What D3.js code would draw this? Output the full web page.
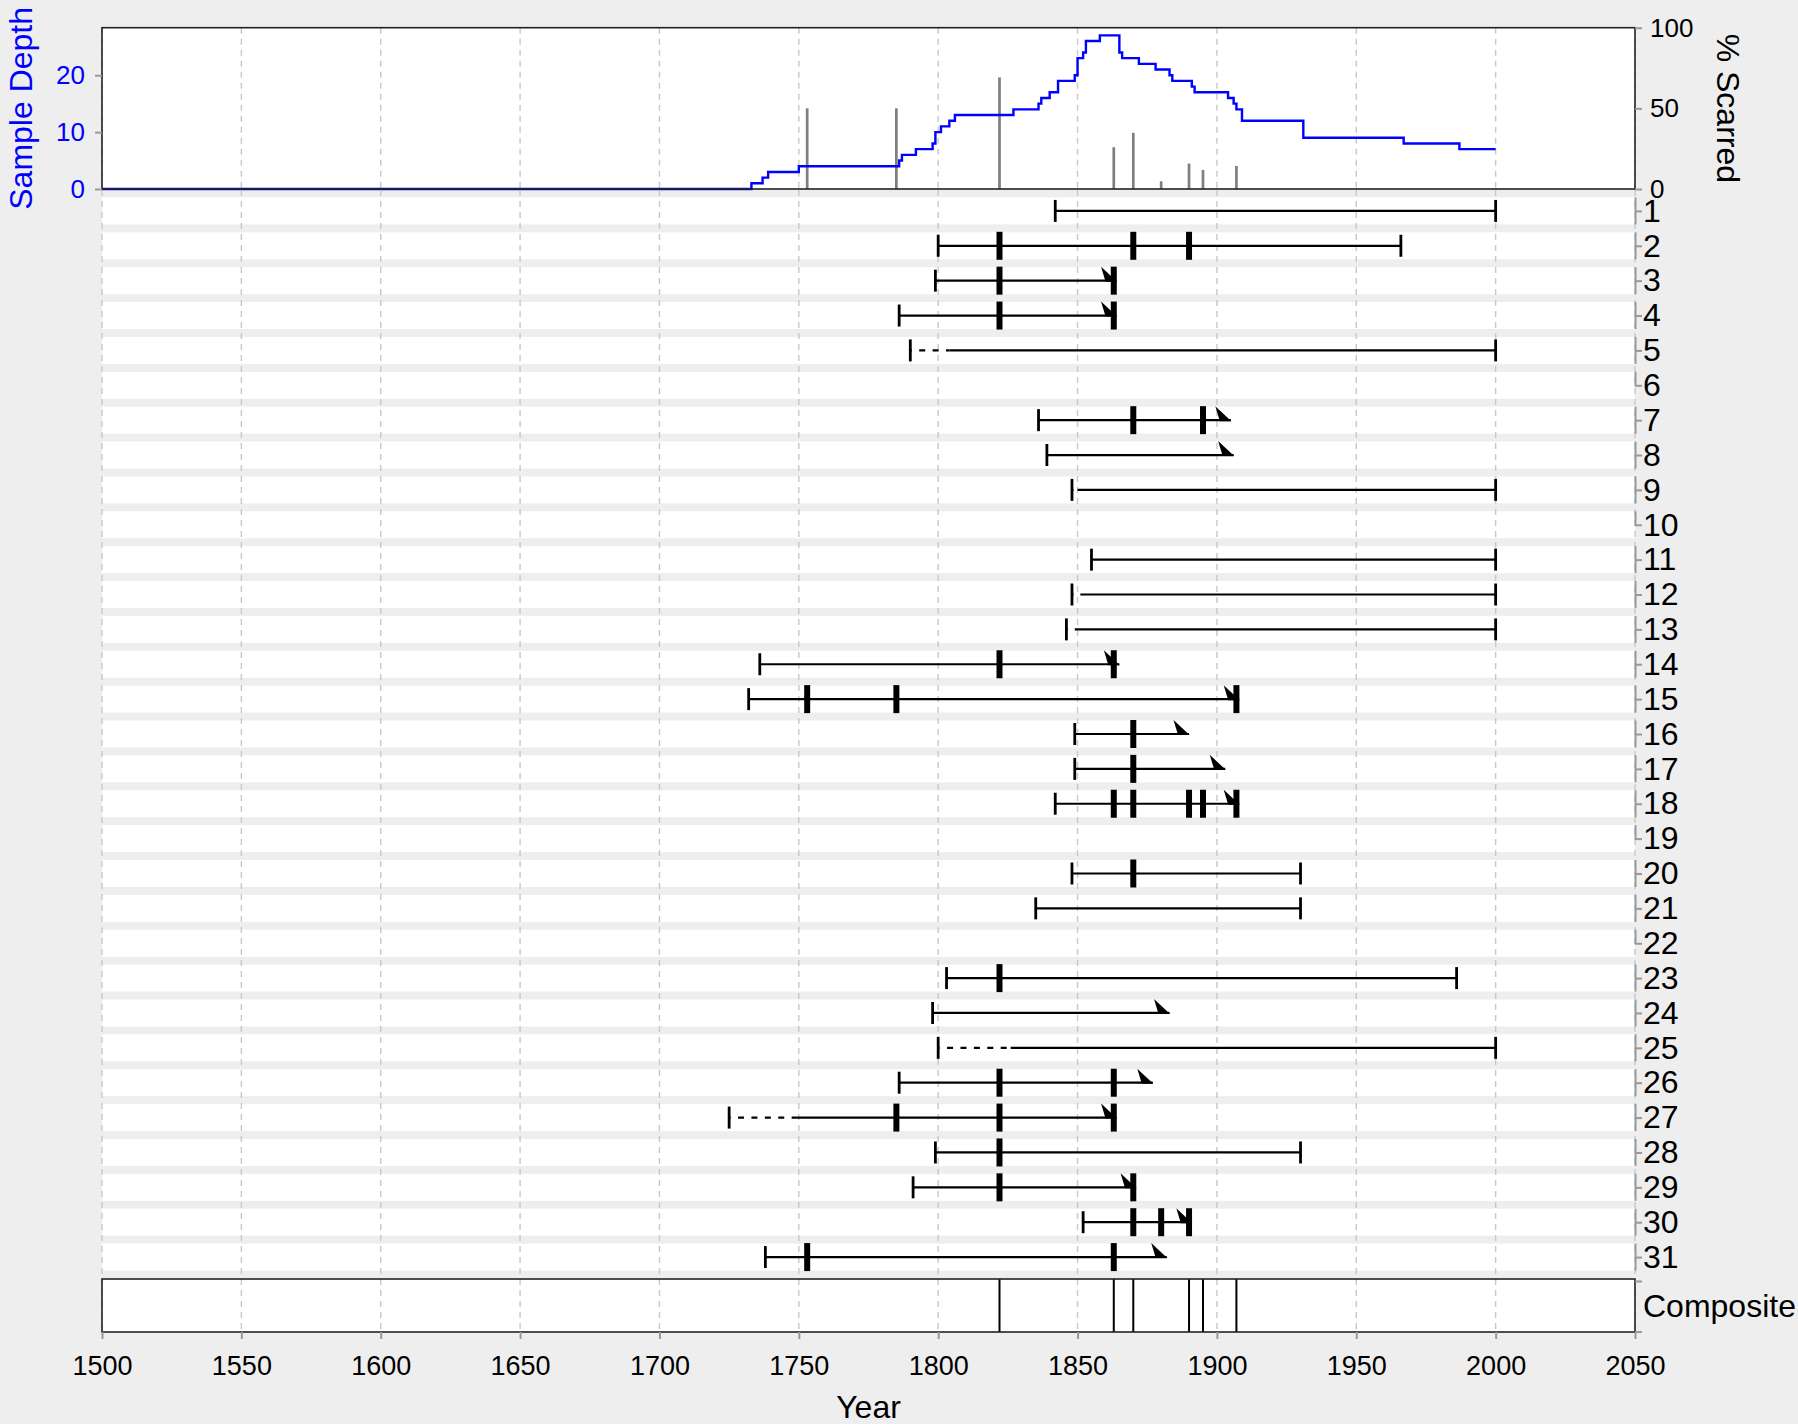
<!DOCTYPE html>
<html><head><meta charset="utf-8">
<script src="https://cdn.jsdelivr.net/npm/d3@7"></script>
<style>
body{margin:0;background:#eeeeee;}
svg{display:block;font-family:"Liberation Sans",Arial,Helvetica,sans-serif;}
</style>
</head><body>
<svg id="chart" width="1798" height="1424"></svg>
<script>
// ---------------- DATA ----------------
const xTicks = [1500,1550,1600,1650,1700,1750,1800,1850,1900,1950,2000,2050];
const depthTicks = [0,10,20];
const pctTicks = [0,50,100];

// sample depth step function (year where value begins)
const depthYears  = [1500,1733,1737,1739,1750,1786,1787,1792,1798,1799,1801,1804,1806,1827,1836,1837,1840,1843,1849,1850,1852,1853,1858,1865,1866,1872,1878,1883,1884,1891,1892,1904,1906,1907,1909,1931,1967,1987,2000];
const depthValues = [0,1,2,3,4,5,6,7,8,10,11,12,13,14,15,16,17,19,20,23,24,26,27,24,23,22,21,20,19,18,17,16,15,14,12,9,8,7,7];

// percent scarred
const scarEventYears = [1753,1785,1822,1863,1870,1880,1890,1895,1907];
const pctScarred     = [50,50,69.2,25.9,34.8,4.8,15.8,11.8,14.3];

// composite fire years
const compositeYears = [1822,1863,1870,1890,1895,1907];

// series
const seriesNames = ["1","2","3","4","5","6","7","8","9","10","11","12","13","14","15","16","17","18","19","20","21","22","23","24","25","26","27","28","29","30","31"];
const seriesStart    = [1842,1800,1799,1786,1790,null,1836,1839,1848,null,1855,1848,1846,1736,1732,1849,1849,1842,null,1848,1835,null,1803,1798,1800,1786,1725,1799,1791,1852,1738];
const recordingStart = [1842,1800,1799,1786,1804,null,1836,1839,1850,null,1855,1851,1849,1736,1732,1849,1849,1842,null,1848,1835,null,1803,1798,1826,1786,1749,1799,1791,1852,1738];
const seriesEnd      = [2000,1966,1864,1864,2000,null,1905,1906,2000,null,2000,2000,2000,1865,1908,1890,1903,1908,null,1930,1930,null,1986,1883,2000,1877,1864,1930,1871,1891,1882];
const endType        = ["bark","bark","outer","outer","bark",null,"outer","outer","bark",null,"bark","bark","bark","outer","outer","outer","outer","outer",null,"bark","bark",null,"bark","outer","bark","outer","outer","bark","outer","outer","outer"];
const scarLists = [[],[1822,1870,1890],[1822,1863],[1822,1863],[],[],[1870,1895],[],[],[],[],[],[],[1822,1863],[1753,1785,1907],[1870],[1870],[1863,1870,1890,1895,1907],[],[1870],[],[],[1822],[],[],[1822,1863],[1785,1822,1863],[1822],[1822,1870],[1870,1880,1890],[1753,1863]];

// ---------------- LAYOUT ----------------
const svg = d3.select("#chart");
const X0 = 102, X1 = 1635;
const topY0 = 27.7, topY1 = 189;
const serY0 = 190, serY1 = 1278;
const compY0 = 1279, compY1 = 1332;
const bandH = 27;
const gridColor = "#c8c8c8";
const tickColor = "#999999";

const x = d3.scaleLinear().domain([1500,2050]).range([X0,X1]);
const yDepth = d3.scaleLinear().domain([0,28.35]).range([topY1,topY0]);
const yPct = d3.scaleLinear().domain([0,100]).range([topY1,topY0]);
const ySer = d3.scalePoint().domain(seriesNames).range([serY0,serY1]).padding(0.6);

svg.append("rect").attr("width",1798).attr("height",1424).attr("fill","#eeeeee");

// ---------- TOP PANEL ----------
const topG = svg.append("g");
topG.append("rect").attr("x",X0).attr("y",topY0).attr("width",X1-X0).attr("height",topY1-topY0).attr("fill","#ffffff");
topG.selectAll("line.grid").data(xTicks).enter().append("line")
  .attr("x1",d=>x(d)).attr("x2",d=>x(d)).attr("y1",topY0).attr("y2",topY1)
  .attr("stroke",gridColor).attr("stroke-width",1.4).attr("stroke-dasharray","6,5");
topG.selectAll("line.bar").data(scarEventYears).enter().append("line")
  .attr("x1",d=>x(d)).attr("x2",d=>x(d))
  .attr("y1",yPct(0)).attr("y2",(d,i)=>yPct(pctScarred[i]))
  .attr("stroke","#7f7f7f").attr("stroke-width",2.7);
const depthData = depthYears.map((y,i)=>[y,depthValues[i]]);
topG.append("path").datum(depthData)
  .attr("d", d3.line().x(d=>x(d[0])).y(d=>yDepth(d[1])).curve(d3.curveStepAfter))
  .attr("fill","none").attr("stroke","#0000ff").attr("stroke-width",2.4);
topG.append("rect").attr("x",X0).attr("y",topY0).attr("width",X1-X0).attr("height",topY1-topY0)
  .attr("fill","none").attr("stroke","#222").attr("stroke-width",1.6);

const axL = svg.append("g").attr("transform",`translate(${X0},0)`)
  .call(d3.axisLeft(yDepth).tickValues(depthTicks).tickSize(7).tickPadding(10));
axL.select(".domain").remove();
axL.selectAll("line").attr("stroke",tickColor).attr("stroke-width",2);
axL.selectAll("text").attr("fill","#0000ff").style("font-size","26px").attr("font-family",null);

const axR = svg.append("g").attr("transform",`translate(${X1},0)`)
  .call(d3.axisRight(yPct).tickValues(pctTicks).tickSize(7).tickPadding(8));
axR.select(".domain").remove();
axR.selectAll("line").attr("stroke",tickColor).attr("stroke-width",2);
axR.selectAll("text").attr("fill","#000").style("font-size","26px").attr("font-family",null);

svg.append("text").attr("transform",`translate(32,${(topY0+topY1)/2}) rotate(-90)`)
  .attr("text-anchor","middle").attr("fill","#0000ff").style("font-size","32px").text("Sample Depth");
svg.append("text").attr("transform",`translate(1717,${(topY0+topY1)/2}) rotate(90)`)
  .attr("text-anchor","middle").attr("fill","#000").style("font-size","32px").text("% Scarred");

// ---------- SERIES PANEL ----------
const ser = svg.append("g");
ser.selectAll("rect.band").data(seriesNames).enter().append("rect")
  .attr("x",X0).attr("width",X1-X0).attr("y",d=>ySer(d)-bandH/2).attr("height",bandH).attr("fill","#ffffff");
ser.selectAll("line.grid").data(xTicks).enter().append("line")
  .attr("x1",d=>x(d)).attr("x2",d=>x(d)).attr("y1",topY1+1).attr("y2",serY1)
  .attr("stroke",gridColor).attr("stroke-width",1.4).attr("stroke-dasharray","6,5");

// right-side axis for series
const axS = svg.append("g").attr("transform",`translate(${X1},0)`)
  .call(d3.axisRight(ySer).tickSize(7).tickPadding(1));
axS.select(".domain").remove();
axS.selectAll("line").attr("stroke",tickColor).attr("stroke-width",2);
axS.selectAll("text").attr("fill","#000").style("font-size","32px").attr("font-family",null);
// vertical gray bits along each row at the axis
ser.selectAll("line.vbit").data(seriesNames).enter().append("line")
  .attr("x1",X1+0.5).attr("x2",X1+0.5)
  .attr("y1",d=>ySer(d)-bandH/2)
  .attr("y2",(d,i)=>seriesStart[i]===null ? ySer(d)+1 : ySer(d)+bandH/2)
  .attr("stroke",tickColor).attr("stroke-width",2);

const rows = seriesNames.map((n,i)=>({n,i,s:seriesStart[i],r:recordingStart[i],e:seriesEnd[i],t:endType[i],scars:scarLists[i]}))
  .filter(d=>d.s!==null);

// non-recording (dashed)
ser.selectAll("line.nonrec").data(rows.filter(d=>d.r>d.s)).enter().append("line")
  .attr("x1",d=>x(d.s)).attr("x2",d=>x(d.r)).attr("y1",d=>ySer(d.n)).attr("y2",d=>ySer(d.n))
  .attr("stroke","#000").attr("stroke-width",2.2).attr("stroke-dasharray","6,7.4").attr("stroke-dashoffset",4.5);
// recording (solid)
ser.selectAll("line.rec").data(rows).enter().append("line")
  .attr("x1",d=>x(d.r)).attr("x2",d=>x(d.e)).attr("y1",d=>ySer(d.n)).attr("y2",d=>ySer(d.n))
  .attr("stroke","#000").attr("stroke-width",2.2);
// start ticks
ser.selectAll("line.start").data(rows).enter().append("line")
  .attr("x1",d=>x(d.s)).attr("x2",d=>x(d.s)).attr("y1",d=>ySer(d.n)-11).attr("y2",d=>ySer(d.n)+11)
  .attr("stroke","#000").attr("stroke-width",2.8);
// bark end ticks
ser.selectAll("line.bark").data(rows.filter(d=>d.t==="bark")).enter().append("line")
  .attr("x1",d=>x(d.e)).attr("x2",d=>x(d.e)).attr("y1",d=>ySer(d.n)-11).attr("y2",d=>ySer(d.n)+11)
  .attr("stroke","#000").attr("stroke-width",2.8);
// outer-year markers
ser.selectAll("path.outer").data(rows.filter(d=>d.t==="outer")).enter().append("path")
  .attr("d",d=>{const xe=x(d.e), yc=ySer(d.n); return `M${xe-15.5},${yc-14}L${xe-11},${yc+1}L${xe+0.5},${yc+1}Z`;})
  .attr("fill","#000");
// fire scars
const scarPts = [];
rows.forEach(d=>d.scars.forEach(s=>scarPts.push({n:d.n,y:s})));
ser.selectAll("line.scar").data(scarPts).enter().append("line")
  .attr("x1",d=>x(d.y)).attr("x2",d=>x(d.y)).attr("y1",d=>ySer(d.n)-14).attr("y2",d=>ySer(d.n)+14)
  .attr("stroke","#000").attr("stroke-width",6);

// ---------- COMPOSITE ----------
const comp = svg.append("g");
comp.append("rect").attr("x",X0).attr("y",compY0).attr("width",X1-X0).attr("height",compY1-compY0).attr("fill","#fff");
comp.selectAll("line.grid").data(xTicks).enter().append("line")
  .attr("x1",d=>x(d)).attr("x2",d=>x(d)).attr("y1",compY0).attr("y2",compY1)
  .attr("stroke",gridColor).attr("stroke-width",1.4).attr("stroke-dasharray","6,5");
comp.selectAll("line.ev").data(compositeYears).enter().append("line")
  .attr("x1",d=>x(d)).attr("x2",d=>x(d)).attr("y1",compY0).attr("y2",compY1)
  .attr("stroke","#000").attr("stroke-width",2);
comp.append("rect").attr("x",X0).attr("y",compY0).attr("width",X1-X0).attr("height",compY1-compY0)
  .attr("fill","none").attr("stroke","#222").attr("stroke-width",1.6);
[compY0+2.5, compY1].forEach(yy=>{
  comp.append("line").attr("x1",X1).attr("x2",X1+7).attr("y1",yy).attr("y2",yy).attr("stroke",tickColor).attr("stroke-width",2);
});
svg.append("text").attr("x",1643).attr("y",(compY0+compY1)/2).attr("dy","0.35em")
  .style("font-size","32px").attr("fill","#000").text("Composite");

// ---------- X AXIS ----------
const axX = svg.append("g").attr("transform",`translate(0,${compY1})`)
  .call(d3.axisBottom(x).tickValues(xTicks).tickFormat(d3.format("d")).tickSize(7).tickPadding(17));
axX.select(".domain").remove();
axX.selectAll("line").attr("stroke",tickColor).attr("stroke-width",2);
axX.selectAll("text").attr("fill","#000").style("font-size","27px").attr("font-family",null);
svg.append("text").attr("x",(X0+X1)/2).attr("y",1418).attr("text-anchor","middle")
  .style("font-size","32px").attr("fill","#000").text("Year");
</script>
</body></html>
